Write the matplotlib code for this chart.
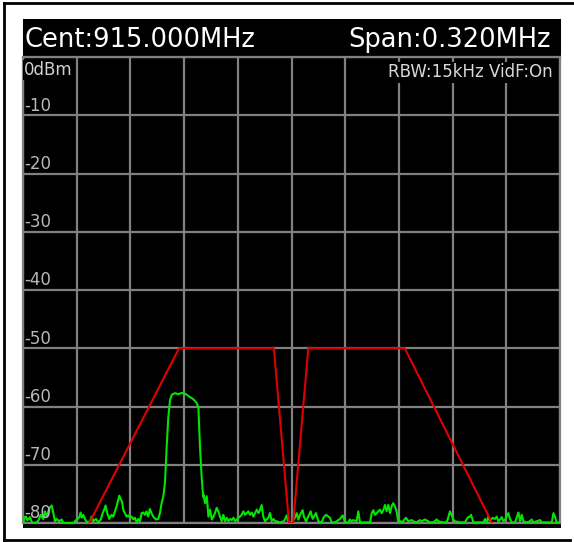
import matplotlib
matplotlib.use('Agg')
import matplotlib.pyplot as plt
from matplotlib.patches import Rectangle
from matplotlib.lines import Line2D

center_mhz = 915.000
span_mhz = 0.320
ref_level = 0
level_ticks = [-10, -20, -30, -40, -50, -60, -70, -80]

# trace: offset from centre (kHz) and level (dBm)
trace_khz = [
    -159.8, -159.0, -158.2, -157.4, -156.6, -155.8, -155.0, -153.9, -151.9, -150.7,
    -149.5, -148.7, -147.9, -146.9, -145.9, -144.9, -143.9, -142.9, -141.9, -141.0,
    -140.0, -138.4, -137.0, -136.0, -134.0, -130.0, -127.6, -126.4, -125.7, -124.9,
    -124.1, -122.9, -121.7, -120.1, -119.1, -118.1, -116.5, -115.1, -113.7, -112.5,
    -111.6, -110.8, -109.8, -108.6,
    -107.2, -106.2, -105.2, -104.2, -103.2, -102.6, -101.8, -101.0, -100.3, -99.3,
    -98.3, -97.3, -96.3, -95.3, -94.3, -93.3, -92.3, -91.3, -90.3, -89.3,
    -88.3, -87.3, -86.4, -85.4, -84.4, -83.4, -82.4, -80.8, -79.4, -78.4, -77.4,
    -76.4, -75.4, -74.4, -73.4, -72.4, -71.4, -69.4, -67.6, -65.8, -64.1,
    -62.3, -60.5, -58.7, -56.5, -55.5, -54.5, -53.5, -52.6,
    -52.5, -51.5, -50.5, -49.5, -48.5, -47.5, -46.6, -45.6, -44.6, -43.6,
    -42.6, -41.6, -40.6, -39.6, -38.6, -37.6, -36.6, -35.6, -34.6, -33.6,
    -32.7, -31.7, -30.7, -29.7, -28.7, -27.7, -26.7, -25.7, -24.7, -23.7,
    -22.7, -21.7, -20.7, -19.7, -18.8, -17.8, -16.8, -15.8, -14.8, -13.8,
    -12.8, -11.8, -10.8, -9.8, -8.8, -6.8, -4.8, -3.9, -2.9, -1.9, -0.9,
    0.1, 2.1, 3.1, 4.1, 5.1, 6.6, 7.4, 8.6, 10.0, 11.4,
    12.6, 13.4, 14.6, 16.0, 18.0, 19.0, 20.6, 22.0, 22.9, 23.9,
    25.9, 27.9, 28.9, 30.5, 31.9, 33.9, 34.8, 35.8, 36.8, 38.8,
    39.8, 40.8, 43.8, 46.8, 47.8, 48.8, 49.7, 51.1, 52.7,
    53.7, 54.7, 55.7, 56.7, 57.7, 58.7, 59.7, 60.6, 61.6, 62.6,
    63.6, 65.0, 66.2, 67.0, 68.2, 69.6, 71.6, 72.6, 74.5, 76.5,
    77.5, 79.5, 81.5, 82.5, 84.5, 86.5, 87.5, 90.4, 92.4, 93.4,
    94.4, 95.4, 96.4, 97.4, 100.4, 103.3, 104.3, 105.3, 106.3,
    107.0, 108.4, 111.4, 114.3, 115.3, 116.3, 117.3, 118.3, 119.9, 121.3,
    122.3, 123.3, 124.3, 125.3, 126.3, 127.3, 129.2, 130.2, 131.2, 133.2,
    134.2, 135.2, 136.2, 137.2, 138.2, 140.2, 142.1, 143.1, 144.1, 146.1,
    148.1, 149.1, 152.1, 155.1, 156.1, 157.0, 158.0, 159.6,
]
trace_dbm = [
    -80.0, -79.0, -78.9, -79.5, -79.3, -79.0, -79.7, -80.0, -79.9, -79.5,
    -78.6, -79.0, -79.3, -78.0, -78.9, -78.0, -77.3, -77.0, -78.3, -79.7,
    -79.3, -79.7, -79.4, -80.0, -80.0, -80.0, -79.3, -79.0, -78.2, -79.1,
    -78.6, -79.4, -79.9, -79.7, -78.9, -79.7, -79.3, -79.9, -79.4, -78.3,
    -77.7, -77.0, -78.3, -79.3,
    -78.6, -78.9, -78.0, -77.1, -76.0, -75.3, -75.9, -76.3, -77.7, -78.3,
    -78.9, -78.7, -79.1, -78.9, -79.4, -79.1, -79.9, -79.3, -79.7, -78.3,
    -78.2, -78.6, -78.0, -78.9, -77.6, -78.3, -78.9, -79.4, -79.3, -78.3, -76.6,
    -75.5, -73.1, -67.0, -61.8, -58.9, -58.0, -57.7, -57.9, -57.7, -57.7,
    -58.0, -58.4, -58.7, -59.4, -60.1, -67.1, -72.3, -75.5,
    -75.1, -76.6, -75.4, -78.9, -77.7, -79.4, -79.0, -78.3, -77.4, -78.0,
    -78.9, -79.7, -78.6, -79.7, -79.1, -79.7, -79.3, -79.5, -79.1, -79.7,
    -79.4, -79.1, -78.9, -78.6, -78.0, -78.6, -78.3, -78.0, -78.6, -78.2,
    -78.9, -78.3, -77.7, -78.3, -77.8, -76.9, -78.9, -79.7, -79.4, -79.1,
    -78.3, -79.7, -79.3, -79.7, -79.7, -79.9, -79.7, -79.4, -78.7, -79.7, -79.9,
    -79.9, -79.1, -78.3, -79.4, -78.6, -77.8, -78.9, -79.7, -78.9, -78.0,
    -79.3, -78.9, -78.3, -79.7, -79.9, -79.1, -78.6, -78.9, -79.1, -79.9,
    -79.9, -79.5, -79.3, -78.7, -79.9, -79.9, -79.4, -79.7, -79.5, -79.7,
    -78.0, -79.9, -79.9, -79.9, -78.3, -77.8, -78.6, -78.2, -77.7,
    -78.3, -77.8, -76.9, -78.0, -76.9, -78.3, -77.1, -76.6, -77.1, -78.0,
    -79.7, -79.7, -79.9, -79.5, -79.1, -79.7, -79.5, -79.7, -79.9, -79.5,
    -79.7, -79.4, -79.7, -79.9, -79.9, -79.4, -79.7, -79.9, -79.9, -79.1,
    -78.0, -78.6, -79.4, -79.7, -79.9, -79.9, -79.4, -79.0, -78.9,
    -78.6, -79.9, -79.9, -79.9, -79.3, -79.9, -78.9, -79.7, -79.1, -79.3,
    -78.9, -79.7, -79.4, -79.0, -79.7, -79.4, -78.3, -79.3, -79.9, -79.9,
    -79.1, -78.2, -79.7, -78.6, -79.7, -79.9, -79.7, -79.4, -79.9, -79.7,
    -79.5, -79.9, -79.9, -79.9, -78.3, -78.9, -79.9, -79.9,
]

# limit mask (red)
mask_khz = [-120.5, -67.0, -10.5, -1.5, 1.0, 10.0, 67.5, 119.5]
mask_dbm = [-80, -50, -50, -80, -80, -50, -50, -80]

W, H = 574, 542
fig = plt.figure(figsize=(W / 100, H / 100), dpi=100)
fig.patch.set_facecolor('white')


def px(x, y):
    return x / W, 1 - y / H


# instrument screen
x0, y0 = px(23, 528)
fig.patches.append(Rectangle((x0, y0), 538 / W, 509 / H, transform=fig.transFigure,
                             facecolor='black', edgecolor='none', zorder=-5))

# outer frame (left, top, bottom)
for xs, ys in [((4, 4), (3, 540)), ((4, 574), (3, 3)), ((4, 570), (540, 540))]:
    fig.lines.append(Line2D([x / W for x in xs], [1 - y / H for y in ys],
                            transform=fig.transFigure, color='black', lw=2, zorder=-5))

ax = fig.add_axes([23 / W, (H - 523) / H, 537 / W, 466 / H])
ax.set_zorder(1)
ax.set_facecolor('black')
lo = center_mhz - span_mhz / 2
hi = center_mhz + span_mhz / 2
ax.set_xlim(lo, hi)
ax.set_ylim(-80, ref_level)
ax.set_xticks([lo + i * span_mhz / 10 for i in range(11)])
ax.set_yticks(range(-80, 1, 10))
ax.tick_params(length=0, labelbottom=False, labelleft=False)
ax.grid(True, color='#808080', lw=1.6)
for s in ax.spines.values():
    s.set_color('#808080')
    s.set_linewidth(1.6)

freqs = [center_mhz + k / 1000 for k in trace_khz]
ax.plot(freqs, trace_dbm, color='#00e600', lw=1.5, zorder=3, clip_on=False)
mask_f = [center_mhz + k / 1000 for k in mask_khz]
ax.plot(mask_f, mask_dbm, color='#e00000', lw=1.5, zorder=4)

# level labels
xl = lo + 0.0006
ax.text(xl, -3.1, '%ddBm' % ref_level, color='#d0d0d0', fontsize=12, va='baseline',
        ha='left', zorder=5, bbox=dict(facecolor='black', edgecolor='none', pad=1))
for v in level_ticks:
    ax.text(xl, v + 0.8, str(v), color='#b8b8b8', fontsize=12, va='baseline',
            ha='left', zorder=5)
ax.text(lo + (553 - 23) / 537 * span_mhz, -3.5, 'RBW:15kHz VidF:On', color='#d8d8d8',
        fontsize=12, va='baseline', ha='right', zorder=5,
        bbox=dict(facecolor='black', edgecolor='none', pad=1))

# header
fig.text(*px(24, 47), 'Cent:%.3fMHz' % center_mhz, color='white', fontsize=18.5,
         va='baseline', ha='left', zorder=5)
fig.text(*px(551, 47), 'Span:%.3fMHz' % span_mhz, color='white', fontsize=18.5,
         va='baseline', ha='right', zorder=5)

fig.savefig('out.png', dpi=100, facecolor='white')
